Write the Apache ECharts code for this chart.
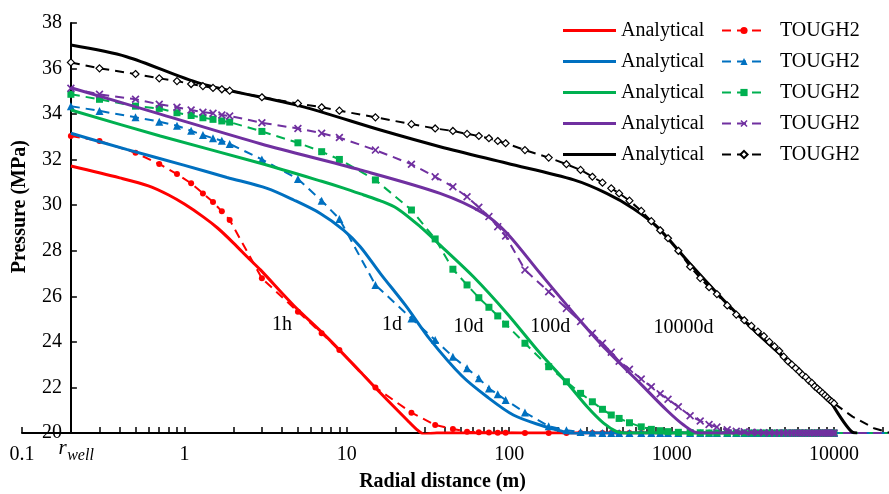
<!DOCTYPE html>
<html><head><meta charset="utf-8">
<script src="https://cdn.jsdelivr.net/npm/echarts@6/dist/echarts.min.js"></script>
<style>html,body{margin:0;padding:0;background:#fff}#c{width:889px;height:494px}</style>
</head><body><div id="c"></div>
<script>
const FONT = '"Liberation Serif","Times New Roman",serif';
const caseNames = ['1h', '1d', '10d', '100d', '10000d'];
const caseColors = ['#FF0000', '#0070C0', '#00B050', '#7030A0', '#000000'];

// x-axis label values (m) and the well radius label
const xLabelValues = [0.1, 1, 10, 100, 1000, 10000];
const rWell = 0.2;

// Analytical solutions: [radial distance (m), pressure (MPa)]
const analytical1h = [[0.2,31.72],[0.4,31.2],[0.6,30.85],[0.8,30.45],[1.0,30.05],[1.3,29.5],[1.6,29.0],[2.0,28.35],[2.5,27.65],[2.94,27.16],[4.71,25.6],[7.56,24.2],[12.1,22.69],[15.3,21.92],[23.5,20.57],[27,20.15],[30,19.95],[35.8,20.0],[10000,20.0]];
const analytical1d = [[0.2,33.16],[0.44,32.45],[0.99,31.76],[1.83,31.22],[3.23,30.74],[4.71,30.23],[6.87,29.64],[9.55,28.91],[12.1,28.18],[16.1,27.0],[23,25.6],[32.6,24.1],[51.2,22.5],[73,21.59],[106,20.79],[155,20.35],[216,20.06],[250,19.97],[300,20.0],[10000,20.0]];
const analytical10d = [[0.2,34.18],[0.71,33.04],[2.94,31.84],[7.0,31.05],[9.55,30.75],[12.7,30.45],[16,30.2],[20.4,29.86],[28.3,29.06],[37.5,28.25],[60.2,26.86],[96.9,25.25],[155,23.5],[228,22.18],[302,21.15],[381,20.43],[459,20.06],[530,19.99],[600,20.0],[10000,20.0]];
const analytical100d = [[0.2,35.16],[0.71,34.0],[2.94,32.7],[12.1,31.55],[37.5,30.52],[69.6,29.64],[96.9,28.77],[155,27.01],[250,25.25],[398,23.64],[640,22.18],[930,21.01],[1186,20.35],[1440,20.01],[1600,20.0],[10000,20.0]];
const analytical10000d = [[0.2,37.03],[0.44,36.52],[1.25,35.35],[5.18,34.35],[16.1,33.3],[37.5,32.57],[96.9,31.84],[250,31.11],[398,30.52],[580,29.86],[812,29.06],[1290,27.45],[2085,25.84],[3357,24.38],[5370,23.06],[8690,21.74],[13000,20.03],[13900,20.0]];

// TOUGH2 results: grid radii (m) and pressures (MPa)
const radialTough = [0.2,0.3,0.5,0.7,0.9,1.1,1.3,1.5,1.7,1.9,3,5,7,9,15,25,35,45,55,65,75,85,95,
  125,175,225,275,325,375,425,475,550,650,750,850,950,1100,1300,1500,1700,1900,
  2200,2500,2800,3100,3400,3700,4000,4300,4600,4900,5200,5500,5800,6100,6400,6700,7000,7300,7600,7900,8200,8500,8800,9100,9400,9700,10000];
const tough1h = [33.04,32.82,32.30,31.81,31.37,30.96,30.52,30.14,29.73,29.35,26.79,25.32,24.38,23.64,22.00,20.89,20.35,20.18,20.06,20.03,20.02,20.01,20.01,
  20,20,20,20,20,20,20,20,20,20,20,20,20,20,20,20,20,20,
  20,20,20,20,20,20,20,20,20,20,20,20,20,20,20,20,20,20,20,20,20,20,20,20,20,20,20];
const tough1d = [34.35,34.14,33.86,33.67,33.49,33.27,33.08,32.94,32.83,32.69,32.01,31.15,30.20,29.40,26.50,25.03,24.08,23.35,22.84,22.40,21.95,21.70,21.45,
  20.90,20.30,20.12,20.04,20.01,20,20,20,20,20,20,20,20,20,20,20,20,20,
  20,20,20,20,20,20,20,20,20,20,20,20,20,20,20,20,20,20,20,20,20,20,20,20,20,20,20];
const tough10d = [34.87,34.65,34.35,34.25,34.06,33.94,33.84,33.77,33.70,33.65,33.24,32.74,32.35,32.01,31.11,29.79,28.52,27.19,26.50,25.94,25.52,25.14,24.78,
  23.94,22.91,22.25,21.74,21.37,21.04,20.79,20.64,20.45,20.27,20.16,20.10,20.06,20.03,20.02,20.01,20,20,
  20,20,20,20,20,20,20,20,20,20,20,20,20,20,20,20,20,20,20,20,20,20,20,20,20,20,20];
const tough100d = [35.13,34.87,34.65,34.43,34.30,34.18,34.08,34.04,33.96,33.92,33.62,33.37,33.16,32.97,32.42,31.80,31.25,30.81,30.37,29.91,29.50,29.06,28.65,
  27.16,26.20,25.47,24.89,24.38,23.94,23.55,23.15,22.80,22.37,22.03,21.72,21.48,21.15,20.76,20.53,20.37,20.26,
  20.14,20.08,20.05,20.03,20.02,20.01,20,20,20,20,20,20,20,20,20,20,20,20,20,20,20,20,20,20,20,20,20];
const tough10000d = [36.27,36.01,35.76,35.57,35.45,35.32,35.23,35.15,35.09,35.03,34.74,34.47,34.30,34.15,33.86,33.56,33.37,33.26,33.13,33.04,32.94,32.82,32.72,
  32.42,32.09,31.80,31.55,31.25,30.99,30.74,30.52,30.20,29.75,29.30,28.90,28.55,28.00,27.30,26.80,26.40,26.10,
  25.60,25.20,24.95,24.70,24.45,24.25,24.00,23.80,23.60,23.35,23.15,23.00,22.85,22.70,22.55,22.45,22.30,22.20,22.05,21.95,21.85,21.75,21.65,21.55,21.45,21.38,21.30];
// TOUGH2 dashed line continuation beyond the last marker
const toughTailColored = [[21800, 20.0]];
const toughTail10000d = [[13000, 20.72], [17600, 20.21], [21800, 20.02]];

// case annotation labels: [radial distance, pressure]
const annotationTexts = ['1h', '1d', '10d', '100d', '10000d'];
const annotationCoords = [[3.99, 24.74], [19.0, 24.74], [56.2, 24.67], [178.6, 24.67], [1183, 24.6]];

const analyticalSets = [analytical1h, analytical1d, analytical10d, analytical100d, analytical10000d];
const toughSets = [tough1h, tough1d, tough10d, tough100d, tough10000d];
const toughTails = [toughTailColored, toughTailColored, toughTailColored, toughTailColored, toughTail10000d];
const symbols = ['circle', 'triangle', 'rect',
  'path://M0,1.5L1.5,0L5,3.5L8.5,0L10,1.5L6.5,5L10,8.5L8.5,10L5,6.5L1.5,10L0,8.5L3.5,5Z', 'diamond'];
const symbolSizes = [6, 8, 7, 8, 7];

// minor/major ticks 1..9 per decade
const tickValues = [];
[0.1, 1, 10, 100, 1000, 10000].forEach(d => { for (let k = 1; k <= 9; k++) { const v = +(d * k).toPrecision(6); if (v <= 21800) tickValues.push(v); } });

const series = [];
const anaNames = [], toughNames = [];
caseNames.forEach((c, i) => {
  const an = 'Analytical ' + c, tn = 'TOUGH2 ' + c;
  anaNames.push(an); toughNames.push(tn);
  series.push({
    name: an, type: 'line', data: analyticalSets[i], symbol: 'none', smooth: 0.3,
    lineStyle: { color: caseColors[i], width: 3 }, itemStyle: { color: caseColors[i] },
    z: 2 + i * 2, animation: false
  });
  const pts = radialTough.map((r, j) => [r, toughSets[i][j]]);
  toughTails[i].forEach(p => pts.push({ value: p, symbol: 'none' }));
  const hollow = i === 4;
  series.push({
    name: tn, type: 'line', data: pts, symbol: symbols[i], symbolSize: symbolSizes[i],
    showAllSymbol: true,
    lineStyle: { color: caseColors[i], width: 2, type: [9, 6] },
    itemStyle: hollow ? { color: '#fff', borderColor: '#000', borderWidth: 1.2 } : { color: caseColors[i] },
    z: 3 + i * 2, animation: false
  });
});
series.push({
  type: 'scatter', data: annotationCoords, symbolSize: 1, silent: true,
  itemStyle: { color: 'transparent', opacity: 1 }, z: 20, animation: false,
  label: { show: true, position: 'inside', formatter: p => annotationTexts[p.dataIndex],
    fontSize: 20, fontFamily: FONT, color: '#000', opacity: 1 }
});

const legendCommon = {
  orient: 'vertical', top: 20.5, padding: 0, itemGap: 11, selectedMode: false,
  formatter: n => n.split(' ')[0]
};

const chart = echarts.init(document.getElementById('c'), null, { renderer: 'canvas' });
chart.setOption({
  animation: false,
  backgroundColor: '#fff',
  grid: { left: 22, right: 0, top: 23, bottom: 61, containLabel: false, outerBoundsMode: 'none' },
  legend: [
    Object.assign({}, legendCommon, { left: 563, itemWidth: 53, itemHeight: 3, icon: 'rect', data: anaNames,
      textStyle: { fontFamily: FONT, fontSize: 20, color: '#000', lineHeight: 20 } }),
    Object.assign({}, legendCommon, { left: 721, itemWidth: 44, itemHeight: 9, data: toughNames,
      textStyle: { fontFamily: FONT, fontSize: 20, color: '#000', lineHeight: 20, padding: [0, 0, 0, 9] } })
  ],
  xAxis: {
    type: 'log', logBase: 10, min: 0.1, max: 21800,
    axisLine: { show: true, lineStyle: { color: '#000', width: 2 } },
    axisTick: { show: true, inside: true, length: 6, customValues: tickValues, lineStyle: { color: '#000', width: 1.5 } },
    minorTick: { show: false },
    splitLine: { show: false },
    axisLabel: {
      customValues: xLabelValues, margin: 12, fontSize: 20, fontFamily: FONT, color: '#000',
      formatter: v => String(+(+v).toPrecision(6))
    }
  },
  yAxis: {
    type: 'value', min: 20, max: 38, interval: 2, offset: -48.9,
    axisLine: { show: true, lineStyle: { color: '#000', width: 2 } },
    axisTick: { show: true, inside: true, length: 6, lineStyle: { color: '#000', width: 1.5 } },
    splitLine: { show: false },
    axisLabel: { margin: 9, fontSize: 20, fontFamily: FONT, color: '#000' }
  },
  graphic: [
    { type: 'text', x: 442.5, y: 481.7, style: { text: 'Radial distance (m)', fontFamily: FONT, fontSize: 20, fontWeight: 'bold', fill: '#000', align: 'center', verticalAlign: 'middle' } },
    { type: 'text', x: 20, y: 206.7, rotation: Math.PI / 2, style: { text: 'Pressure (MPa)', fontFamily: FONT, fontSize: 20, fontWeight: 'bold', fill: '#000', align: 'center', verticalAlign: 'middle' } },
    { type: 'text', x: 62.5, y: 448.5, style: { text: 'r', fontFamily: FONT, fontSize: 21, fontStyle: 'italic', fill: '#000', align: 'center', verticalAlign: 'middle' } },
    { type: 'text', x: 80.5, y: 456, style: { text: 'well', fontFamily: FONT, fontSize: 16, fontStyle: 'italic', fill: '#000', align: 'center', verticalAlign: 'middle' } }
  ],
  series: series
});
</script>
</body></html>
